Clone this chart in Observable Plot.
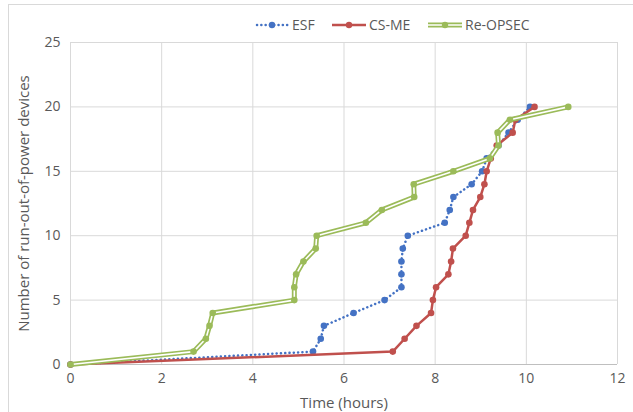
<!DOCTYPE html>
<html>
<head>
<meta charset="utf-8">
<script src="https://cdn.jsdelivr.net/npm/d3@7"></script>
<script src="https://cdn.jsdelivr.net/npm/@observablehq/plot@0.6"></script>
<style>
  body { margin: 0; background: #fff; font-family: "Open Sans", sans-serif; }
  #wrap { position: relative; width: 633px; height: 412px; }
  #frame { position: absolute; left: 8px; top: 4px; width: 640px; height: 420px; border-top: 1px solid #d9d9d9; border-left: 1px solid #d9d9d9; }
  #legend { position: relative; height: 32px; }
  .item { position: absolute; top: 15px; display: flex; align-items: center; font-size: 14px; color: #595959; }
  .item svg { margin-right: 2px; }
  #chart { position: absolute; left: 0; top: 32px; }
  g[aria-label="y-axis label"] text, g[aria-label="x-axis label"] text { font-size: 15px; }
</style>
</head>
<body>
<div id="wrap">
  <div id="frame"></div>
  <div id="legend"></div>
  <div id="chart"></div>
</div>
<script>
// ---- data ----
const counts = [0,1,2,3,4,5,6,7,8,9,10,11,12,13,14,15,16,17,18,19,20];
const esfHours   = [0,5.32,5.49,5.56,6.21,6.89,7.26,7.26,7.26,7.29,7.40,8.21,8.32,8.40,8.80,9.03,9.13,9.39,9.61,9.81,10.08];
const csmeHours  = [0,7.07,7.33,7.59,7.91,7.95,8.02,8.29,8.35,8.39,8.67,8.75,8.83,8.99,9.08,9.13,9.22,9.35,9.70,9.76,10.18];
const reopsecHours = [0,2.70,2.97,3.05,3.12,4.91,4.91,4.95,5.11,5.38,5.40,6.48,6.83,7.54,7.53,8.40,9.20,9.39,9.37,9.64,10.92];
const seriesNames = ["ESF","CS-ME","Re-OPSEC"];
const xTicks = [0,2,4,6,8,10,12];
const yTicks = [0,5,10,15,20,25];

const colors = {"ESF":"#4472C4","CS-ME":"#C0504D","Re-OPSEC":"#9BBB59"};
const mk = (name, hrs) => hrs.map((h,i)=>({series:name, hours:h, count:counts[i]}));
const esf = mk("ESF", esfHours);
const csme = mk("CS-ME", csmeHours);
const reo = mk("Re-OPSEC", reopsecHours);

// ---- legend ----
const legend = document.getElementById("legend");
const legendPos = {"ESF":255,"CS-ME":332,"Re-OPSEC":428};
for (const name of seriesNames) {
  const c = colors[name];
  let sw = "";
  if (name === "ESF") sw = `<line x1="2" y1="6" x2="34" y2="6" stroke="${c}" stroke-width="2.5" stroke-dasharray="0.1 4.2" stroke-linecap="round"/><circle cx="17" cy="6" r="3.2" fill="${c}"/>`;
  else if (name === "CS-ME") sw = `<line x1="0" y1="6" x2="34" y2="6" stroke="${c}" stroke-width="2.5"/><circle cx="17" cy="6" r="3.2" fill="${c}"/>`;
  else sw = `<line x1="0" y1="6" x2="34" y2="6" stroke="${c}" stroke-width="5"/><line x1="0" y1="6" x2="34" y2="6" stroke="#fff" stroke-width="1.6"/><circle cx="17" cy="6" r="3.2" fill="${c}"/>`;
  const d = document.createElement("div");
  d.className = "item";
  d.style.left = legendPos[name] + "px";
  d.innerHTML = `<svg width="35" height="12">${sw}</svg><span>${name}</span>`;
  legend.appendChild(d);
}

// ---- chart ----
const plot = Plot.plot({
  width: 633,
  height: 380,
  marginLeft: 70,
  marginRight: 16,
  marginTop: 10,
  marginBottom: 48,
  style: { fontFamily: "Open Sans, sans-serif", fontSize: "14px", color: "#595959", background: "transparent" },
  x: { domain: [0, 12] },
  y: { domain: [0, 25] },
  marks: [
    Plot.gridX(xTicks, { stroke: "#d9d9d9", strokeOpacity: 1, strokeWidth: 1 }),
    Plot.gridY(yTicks, { stroke: "#d9d9d9", strokeOpacity: 1, strokeWidth: 1 }),
    Plot.ruleY([0], { stroke: "#bfbfbf", strokeWidth: 1.2 }),
    Plot.axisX({ ticks: xTicks, tickSize: 0, tickPadding: 9, label: "Time (hours)", labelAnchor: "center", labelArrow: "none", labelOffset: 43, fontSize: 14 }),
    Plot.axisY({ ticks: yTicks, tickSize: 0, tickPadding: 10, label: "Number of run-out-of-power devices", labelAnchor: "center", labelArrow: "none", labelOffset: 52, fontSize: 14 }),
    // ESF
    Plot.line(esf, { x: "hours", y: "count", stroke: colors["ESF"], strokeWidth: 2.5, strokeDasharray: "0.1 4.2", strokeLinecap: "round" }),
    Plot.dot(esf, { x: "hours", y: "count", r: 3.3, fill: colors["ESF"] }),
    // CS-ME
    Plot.line(csme, { x: "hours", y: "count", stroke: colors["CS-ME"], strokeWidth: 2.5 }),
    Plot.dot(csme, { x: "hours", y: "count", r: 3.3, fill: colors["CS-ME"] }),
    // Re-OPSEC double line
    Plot.line(reo, { x: "hours", y: "count", stroke: colors["Re-OPSEC"], strokeWidth: 5 }),
    Plot.line(reo, { x: "hours", y: "count", stroke: "#ffffff", strokeWidth: 1.6 }),
    Plot.dot(reo, { x: "hours", y: "count", r: 3.3, fill: colors["Re-OPSEC"] })
  ]
});
document.getElementById("chart").appendChild(plot);
</script>
</body>
</html>
